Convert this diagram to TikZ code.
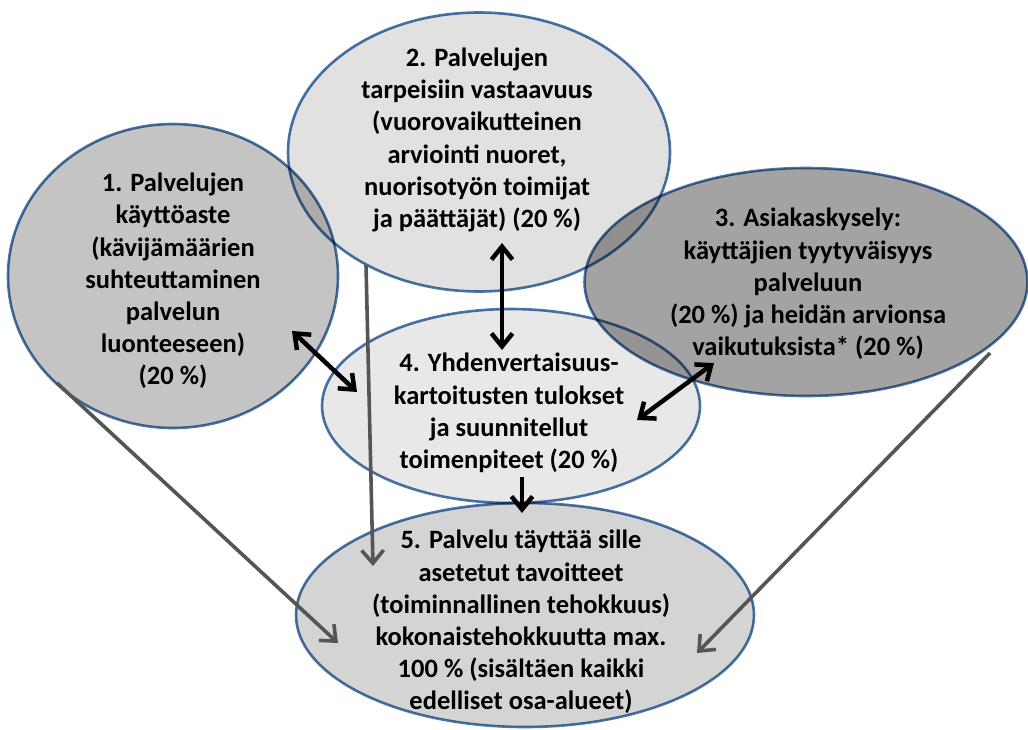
\documentclass[tikz,border=0pt]{standalone}
\usepackage{fontspec}
\setmainfont{Carlito}[BoldFont={Carlito Bold}]
\usetikzlibrary{arrows.meta,shapes.geometric,positioning}
\definecolor{rim}{RGB}{74,117,168}
\definecolor{fillA}{RGB}{196,196,196}
\definecolor{fillB}{RGB}{225,225,225}
\definecolor{fillC}{RGB}{163,163,163}
\definecolor{fillD}{RGB}{232,232,232}
\definecolor{fillE}{RGB}{212,212,212}
\definecolor{feedgray}{RGB}{85,85,85}
\tikzset{
    bubble/.style={ellipse, draw=rim, line width=2.6pt, inner sep=0pt},
    caption/.style={align=center, inner sep=0pt, font=\fontsize{26.5}{32.2}\selectfont\bfseries},
    link/.style={{Straight Barb[length=13pt,width=21pt]}-{Straight Barb[length=13pt,width=21pt]}, line width=4.5pt, black},
    feed/.style={-{Straight Barb[length=13pt,width=22pt]}, line width=3.6pt, feedgray}
}
\begin{document}
\begin{tikzpicture}[x=1pt, y=-1pt]
    \useasboundingbox (0,0) rectangle (1028,729);

    % ellipses, overlapping parts darken
    \begin{scope}[blend group=multiply]
        \node[bubble, fill=fillA, minimum width=330pt, minimum height=304pt] (e1) at (173,276) {};
        \node[bubble, fill=fillB, minimum width=382pt, minimum height=279pt] (e2) at (479,152) {};
        \node[bubble, fill=fillC, minimum width=443pt, minimum height=228pt] (e3) at (806,282) {};
        \node[bubble, fill=fillD, minimum width=378pt, minimum height=194pt] (e4) at (511,406) {};
        \node[bubble, fill=fillE, minimum width=458pt, minimum height=224pt] (e5) at (525,615) {};
    \end{scope}

    % texts
    \node[caption] (t1) at (173,281) {1. Palvelujen\\käyttöaste\\(kävijämäärien\\suhteuttaminen\\palvelun\\luonteeseen)\\(20 \%)};
    \node[caption] (t2) at (477,140) {2. Palvelujen\\tarpeisiin vastaavuus\\(vuorovaikutteinen\\arviointi nuoret,\\nuorisotyön toimijat\\ja päättäjät) (20 \%)};
    \node[caption] (t3) at (808,284) {3. Asiakaskysely:\\käyttäjien tyytyväisyys\\palveluun\\(20 \%) ja heidän arvionsa\\vaikutuksista* (20 \%)};
    \node[caption] (t4) at (509,413) {4. Yhdenvertaisuus-\\kartoitusten tulokset\\ja suunnitellut\\toimenpiteet (20 \%)};
    \node[caption] (t5) at (521,622) {5. Palvelu täyttää sille\\asetetut tavoitteet\\(toiminnallinen tehokkuus)\\kokonaistehokkuutta max.\\100 \% (sisältäen kaikki\\edelliset osa-alueet)};

    % arrow ends
    \coordinate (a1) at (292,331);
    \coordinate (a4l) at (357,392);
    \coordinate (a2) at (502,243);
    \coordinate (a4t) at (502,350);
    \coordinate (a4r) at (637,420);
    \coordinate (a3) at (714,363);
    \coordinate (a4b) at (522,477);
    \coordinate (a5t) at (522,513);
    \coordinate (g1) at (57,383);
    \coordinate (g1e) at (338,643);
    \coordinate (g2) at (366,265);
    \coordinate (g2e) at (373,566);
    \coordinate (g3) at (990,353);
    \coordinate (g3e) at (697,653);

    \draw[feed] (g1) -- (g1e);
    \draw[feed] (g2) -- (g2e);
    \draw[feed] (g3) -- (g3e);

    \draw[link] (a1) -- (a4l);
    \draw[link] (a2) -- (a4t);
    \draw[link] (a4r) -- (a3);
    \draw[link, -{Straight Barb[length=13pt,width=21pt]}] (a4b) -- (a5t);
\end{tikzpicture}
\end{document}
